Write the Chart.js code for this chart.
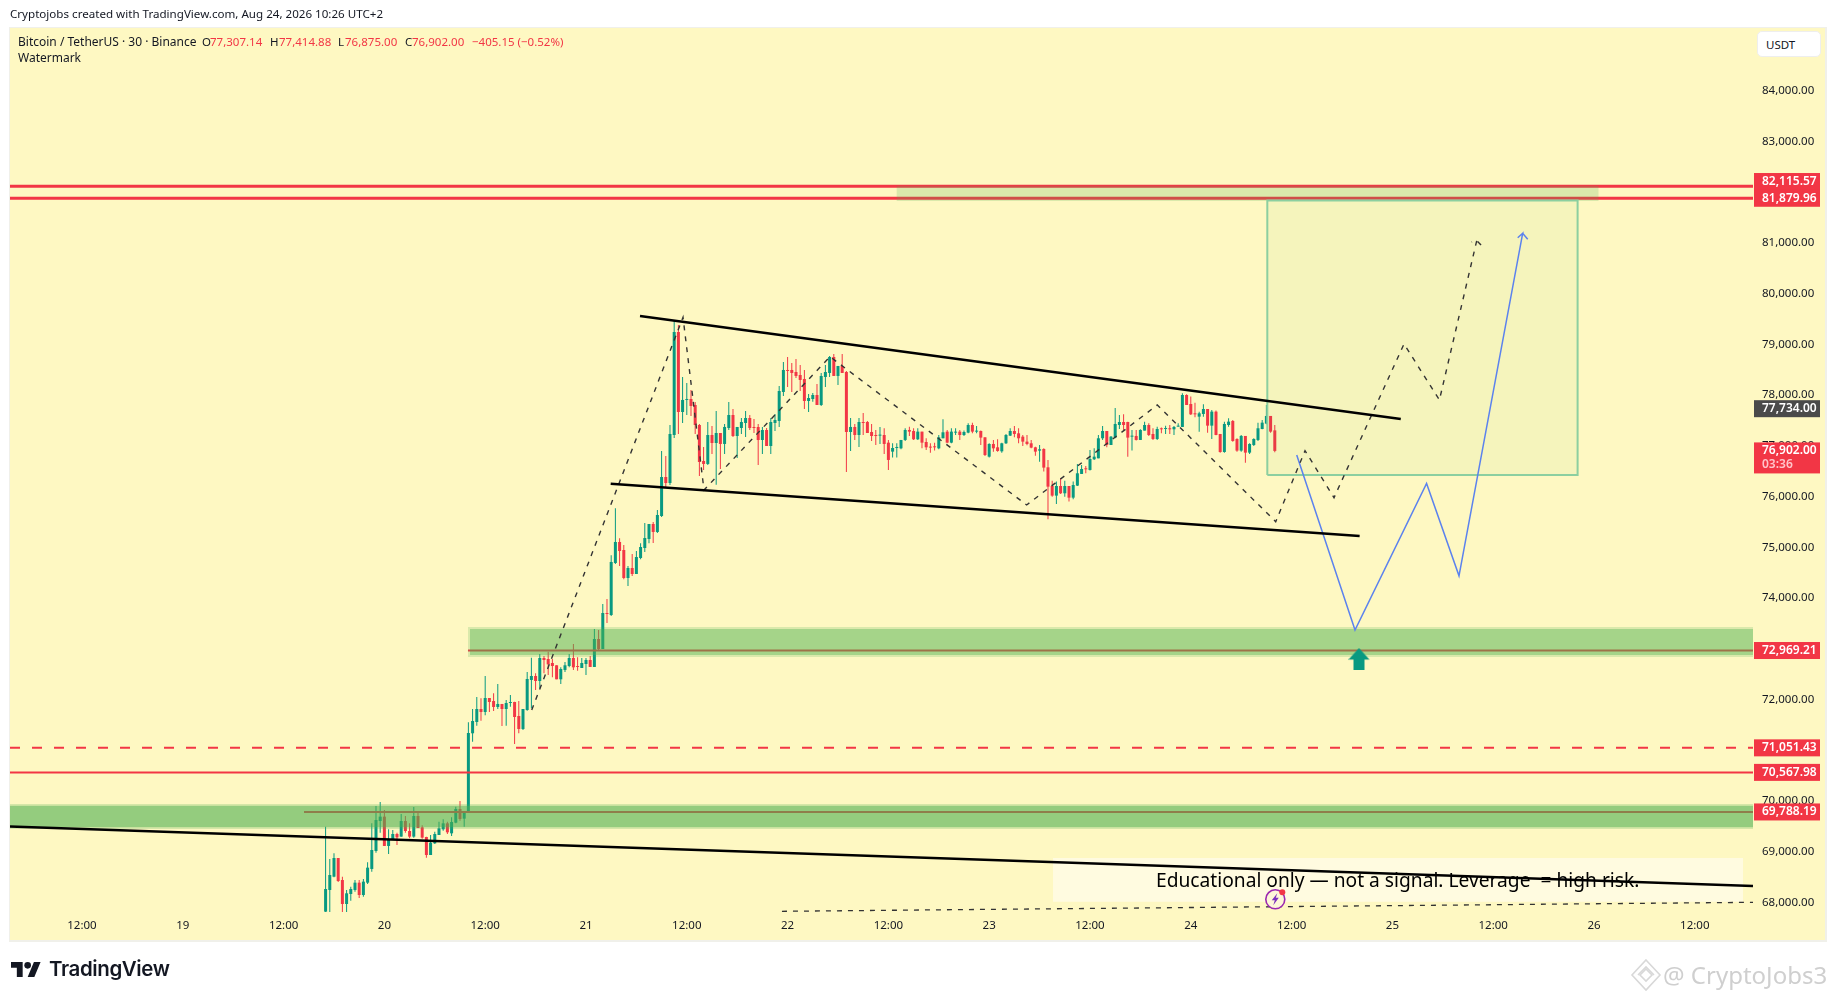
<!DOCTYPE html>
<html><head><meta charset="utf-8">
<style>
html,body{margin:0;padding:0;background:#fff;width:1835px;height:1000px;overflow:hidden}
#wrap{position:relative;width:1835px;height:1000px;font-family:"Noto Sans",sans-serif;color:#131722}
canvas{position:absolute;left:0;top:0}
.t{position:absolute;white-space:pre;font-size:12px;line-height:14px}
.r{color:#f23645}
</style>
<script src="https://cdn.jsdelivr.net/npm/chart.js@4"></script>
</head><body><div id="wrap">
<canvas id="c" width="1835" height="1000"></canvas>
<div class="t" style="left:10px;top:7px;font-size:11.6px">Cryptojobs created with TradingView.com, Aug 24, 2026 10:26 UTC+2</div>
<div class="t" style="left:18px;top:35px">Bitcoin / TetherUS · 30 · Binance</div>
<div class="t" style="left:202px;top:35px;font-size:11.5px">O</div><div class="t r" style="left:210px;top:35px;font-size:11.5px">77,307.14</div>
<div class="t" style="left:270px;top:35px;font-size:11.5px">H</div><div class="t r" style="left:279px;top:35px;font-size:11.5px">77,414.88</div>
<div class="t" style="left:338px;top:35px;font-size:11.5px">L</div><div class="t r" style="left:345px;top:35px;font-size:11.5px">76,875.00</div>
<div class="t" style="left:405px;top:35px;font-size:11.5px">C</div><div class="t r" style="left:412px;top:35px;font-size:11.5px">76,902.00</div>
<div class="t r" style="left:472px;top:35px;font-size:11.5px">−405.15 (−0.52%)</div>
<div class="t" style="left:18px;top:51px">Watermark</div>
<div style="position:absolute;left:1757px;top:31px;width:64px;height:26px;background:#fff;border:1px solid #eee;border-radius:5px;box-sizing:border-box"></div>
<div class="t" style="left:1766px;top:38px;font-size:11.5px">USDT</div>
<div class="t" style="left:1156px;top:867px;font-size:19.2px;line-height:26px;color:#000">Educational only — not a signal. Leverage  = high risk.</div>
<svg style="position:absolute;left:11px;top:962px" width="30" height="15" viewBox="0 4 36 18"><path fill="#131722" d="M14 22H7V11H0V4h14v18zM28 22h-8l7.5-18h8L28 22z"/><circle fill="#131722" cx="20" cy="8" r="4"/></svg>
<div class="t" style="left:49px;top:955px;font-size:20.5px;line-height:28px;font-weight:600;font-family:Inter,sans-serif;letter-spacing:-.4px">TradingView</div>
<svg style="position:absolute;left:1630px;top:958px" width="32" height="34" viewBox="0 0 32 34" fill="none" stroke="#d8d8d8" stroke-width="1.6"><path d="M16 2l14 15-14 15L2 17z"/><path d="M16 11l6 6-6 6-6-6z"/><path d="M8 17l8-8 8 8"/></svg>
<div class="t" style="left:1663px;top:958px;font-size:24px;line-height:34px;color:#cfcfcf">@ CryptoJobs3</div>
</div>
<script>
const opens=[67824,68251,68513,68881,68448,67975,68172,68251,68395,68152,
68395,68665,69019,69610,69696,69118,69249,69354,69302,69610,
69413,69302,69709,69486,69295,68940,69170,69334,69446,69564,
69367,69577,69847,69656,69794,71338,71561,71817,71758,72034,
71975,71857,71916,71817,71935,71955,71679,71423,71797,72389,
72467,72369,72822,72802,72723,72678,72402,72586,72664,72822,
72664,72625,72704,72783,72645,73196,72999,73709,73669,74694,
75108,74950,74398,74595,74477,74792,74989,75167,75462,75305,
75620,76388,76270,77216,79245,77669,77906,77925,77807,77413,
76704,76645,77216,77058,77255,77039,77354,77610,77196,77354,
77452,77551,77374,77374,77117,77314,76999,77452,77492,78063,
78497,78497,78457,78398,78319,77886,77925,78004,77807,78359,
78438,78753,78379,78576,78457,77275,77374,77216,77472,77472,
77275,77216,77203,77216,77065,76888,76960,76953,77118,77315,
77295,77131,77282,77078,76986,76986,76953,77151,77282,77065,
77262,77282,77216,77262,77413,77282,77295,77170,76789,77039,
76973,76894,77052,77203,77295,77249,77183,77085,77052,76973,
76908,76940,76579,76211,76021,76211,76067,76211,75981,76218,
76448,76559,76527,76737,76756,77151,77295,77019,77164,77413,
77472,77472,77183,77197,77118,77302,77413,77236,77137,77341,
77334,77348,77328,77380,77374,78004,77827,77643,77577,77630,
77728,77400,77676,77236,76881,77413,77492,77137,76908,77197,
76868,77019,77118,77334,77440,77591,77307];
const highs=[69499,68862,68973,68881,68513,68251,68316,68448,68448,68467,
68796,69564,69906,69985,69827,69446,69433,69380,69748,69709,
69564,69886,69807,69525,69302,69334,69400,69597,69643,69597,
69682,69893,70004,69807,71554,71817,72054,72027,72467,72034,
72126,72310,71916,71994,72093,71962,71975,71817,72546,72829,
72520,72901,72861,72947,72802,72678,72638,72743,72901,73098,
72835,72822,72822,72861,73393,73374,73886,73985,74845,75771,
75180,75049,74635,74871,74930,75081,75482,75462,75502,75738,
76901,76802,77413,79469,79383,78359,78241,78103,77866,77433,
76980,77472,77393,77689,77255,77433,77866,77728,77374,77551,
77689,77610,77531,77433,77374,77354,77551,77630,78181,78654,
78753,78635,78713,78595,78497,78024,78044,78221,78438,78595,
78773,78812,78576,78812,78477,77551,77433,77551,77649,77492,
77433,77314,77374,77348,77118,77052,77052,77118,77348,77380,
77348,77348,77282,77151,77052,77065,77216,77525,77315,77348,
77348,77315,77302,77446,77459,77394,77302,77170,77052,77118,
77131,77065,77236,77348,77394,77348,77216,77216,77118,76986,
77019,76953,76724,76316,76297,76362,76316,76211,76297,76645,
76625,76605,76921,76953,77216,77394,77295,77197,77748,77610,
77623,77479,77315,77315,77328,77479,77446,77348,77380,77361,
77400,77413,77394,77446,78037,78018,77972,77853,77676,77820,
77728,77709,77696,77236,77479,77545,77512,77151,77216,77197,
77052,77151,77459,77512,77807,77591,77414];
const lows=[67700,67700,68500,68409,67750,67800,68041,68218,68093,68119,
68369,68612,68986,69380,69118,68960,69249,69137,69302,69380,
69269,69282,69472,69262,68888,68940,69157,69334,69420,69354,
69315,69564,69617,69499,69794,71173,71489,71587,71692,71758,
71778,71817,71482,71489,71863,71127,71338,71403,71784,71830,
72191,72224,72520,72487,72441,72402,72310,72546,72638,72586,
72572,72625,72487,72645,72645,72980,72999,73512,73650,74675,
74635,74372,74241,74438,74477,74766,74911,75081,75088,75285,
75600,76185,76231,77157,77236,77452,77610,77590,77236,76408,
76526,76625,76842,76237,76546,76842,77314,77177,76763,77236,
77177,77314,77255,76625,76842,76999,76842,77295,77374,77984,
78162,78063,78339,78083,77728,77669,77873,77807,77787,78162,
78359,78379,78201,78438,76487,76901,77117,76980,77216,77255,
77098,77019,77039,76842,76527,76770,76770,76934,77098,77197,
77118,77118,76953,76921,76868,76908,76934,77151,77052,77052,
77216,77118,77197,77249,77249,77249,77019,76802,76770,76888,
76888,76868,77039,77197,77170,77052,76999,77013,76953,76809,
76691,76494,75555,76001,75857,76054,76001,75903,75949,76211,
76448,76461,76514,76724,76756,77118,76973,77019,77151,77334,
77315,76789,76908,77105,77118,77302,77197,77118,77118,77249,
77236,77236,77216,77380,77374,77807,77610,77564,77282,77577,
77262,77137,77210,76868,76868,77380,77085,76888,76888,76671,
76842,76999,77098,77328,77426,77262,76875];
const closes=[68270,68546,68881,68428,67975,68185,68270,68395,68152,68415,
68691,69039,69630,69696,69118,69249,69354,69288,69610,69413,
69302,69709,69472,69282,68940,69183,69354,69466,69564,69387,
69591,69847,69650,69807,71344,71581,71817,71758,72034,71955,
71857,71916,71817,71935,71955,71659,71423,71817,72408,72467,
72369,72822,72783,72697,72664,72402,72605,72678,72822,72638,
72645,72723,72783,72645,73196,72999,73709,73689,74714,75108,
74930,74398,74595,74477,74812,75009,75186,75462,75305,75640,
76388,76270,77236,79245,77669,77906,77925,77787,77413,76684,
76645,77216,77058,77255,77039,77374,77610,77196,77374,77472,
77551,77354,77354,77117,77314,76999,77472,77512,78083,78497,
78477,78438,78379,78300,77886,77945,78004,77807,78379,78457,
78753,78379,78576,78438,77275,77374,77216,77472,77452,77255,
77196,77196,77216,77039,76724,76960,76980,77118,77315,77282,
77131,77282,77065,76973,76967,76973,77170,77269,77065,77282,
77275,77216,77275,77413,77282,77295,77164,76822,77039,76953,
76901,77052,77216,77295,77236,77151,77085,77039,76967,76888,
76934,76573,76198,76021,76211,76067,76211,75981,76231,76461,
76546,76540,76743,76789,77151,77295,77019,77183,77433,77472,
77413,77164,77197,77118,77315,77413,77216,77137,77334,77328,
77348,77328,77374,77394,78004,77807,77623,77623,77643,77728,
77400,77676,77216,76881,77433,77479,77098,76908,77197,76868,
77039,77137,77348,77459,77591,77282,76902];
// Hours counted from Aug 18 00:00; first candle Aug 19 17:00, 30-minute bars
const firstHour=41, barHours=0.5;
const xMin=3.43, xMax=210.93, yMin=67817, yMax=85235;
const tickHours=[12,24,36,48,60,72,84,96,108,120,132,144,156,168,180,192,204];
const tickTimes=['12:00','19','12:00','20','12:00','21','12:00','22','12:00','23','12:00','24','12:00','25','12:00','26','12:00'];
const tickPrices=[68000,69000,70000,72000,74000,75000,76000,77000,78000,79000,80000,81000,83000,84000];
// price-level lines
const level82115=82115.57, level81880=81879.96, level72969=72969.21, level71051=71051.43, level70568=70567.98, level69788=69788.19;
// trend lines [hour,price]
const upperChannel=[[78.43,79561],[169.0,77531]];
const lowerChannel=[[74.94,76256],[164.1,75226]];
const baseLine=[[3.43,69502],[210.93,68329]];
const dottedBase=[[95.33,67831],[210.93,68008]];
const zigHours=[65.54,83.55,86.05,101.05,124.46,140.01,154.11,157.6,161.05,169.38,173.6,178.04,178.55,178.04,177.44];
const zigPrices=[71797,79535,76132,78759,75837,77807,75508,76907,75980,79009,77906,81044,80960,81044,81019];
const blueHours=[156.61,163.55,172.07,175.93,183.51,182.92,183.51,184.11];
const bluePrices=[76822,73374,76262,74442,81190,81103,81190,81072];
// price tags on the axis: value, centre value of the tag
const tagValues=[82115.57,81879.96,72969.21,71051.43,70567.98,69788.19];
const tagCentres=[82210,81880,72969.21,71051.43,70567.98,69788.19];
const GREEN='#089981', RED='#f23645', FONT='"Noto Sans",sans-serif';
const bar=i=>firstHour+i*barHours;
const wick=opens.map((o,i)=>({x:bar(i),y:[lows[i],highs[i]]}));
const body=opens.map((o,i)=>({x:bar(i),y:[Math.min(o,closes[i]),Math.max(o,closes[i])]}));
const col=c=>closes[c.dataIndex]>=opens[c.dataIndex]?GREEN:RED;
const pts=a=>a.map(p=>({x:p[0],y:p[1]}));
const line=(data,color,width,order,dash)=>({type:'line',data,borderColor:color,borderWidth:width,borderDash:dash||[],pointRadius:0,tension:0,fill:false,order});
const hline=(v,from,color,width,order,dash)=>line([{x:from,y:v},{x:xMax,y:v}],color,width,order,dash);
const zone=(x0,x1,hi,lo,color,order)=>({type:'line',data:[{x:x0,y:hi},{x:x1,y:hi}],borderWidth:0,borderColor:'transparent',backgroundColor:color,pointRadius:0,fill:{target:{value:lo}},order});
const rectPath=(x0,x1,hi,lo)=>[{x:x0,y:lo},{x:x0,y:hi},{x:x1,y:hi},{x:x1,y:lo},{x:x0,y:lo}];
const arrowCanvas=(()=>{const c=document.createElement('canvas');c.width=22;c.height=22;const g=c.getContext('2d');g.fillStyle=GREEN;g.beginPath();
 g.moveTo(10.5,0);g.lineTo(21,11.5);g.lineTo(16,11.5);g.lineTo(16,22);g.lineTo(5,22);g.lineTo(5,11.5);g.lineTo(0,11.5);g.closePath();g.fill();return c;})();
const plugin={id:'tv',
 beforeDraw(ch){const g=ch.ctx;g.save();g.fillStyle='#fff';g.fillRect(0,0,1835,1000);g.fillStyle='#f0f0ea';g.fillRect(9,27,1818,915);g.fillStyle='#fef8c2';g.fillRect(10,28,1815,912);g.restore();},
 afterDraw(ch){const g=ch.ctx,y=ch.scales.y,x=ch.scales.x;g.save();
  // lightning marker
  const ix=x.getPixelForValue(154.06),iy=y.getPixelForValue(68067);
  g.beginPath();g.arc(ix,iy,9.5,0,7);g.fillStyle='#fdf6d8';g.fill();g.lineWidth=1.6;g.strokeStyle='#9c27b0';g.stroke();
  g.beginPath();g.moveTo(ix+2,iy-6);g.lineTo(ix-3.5,iy+1);g.lineTo(ix-.5,iy+1);g.lineTo(ix-2,iy+6);g.lineTo(ix+3.5,iy-1.5);g.lineTo(ix+.5,iy-1.5);g.closePath();g.fillStyle='#7b2fbf';g.fill();
  g.beginPath();g.arc(ix+7,iy-7,3,0,7);g.fillStyle=RED;g.fill();
  // axis tags
  const R=1754,W=66,H=17;g.textBaseline='middle';g.textAlign='left';
  const tag=(cy,txt,bg)=>{g.fillStyle=bg;g.fillRect(R,cy-H/2,W,H);g.fillStyle='#fff';g.font='600 12px '+FONT;g.fillText(txt,1762,cy);};
  tagValues.forEach((v,i)=>tag(y.getPixelForValue(tagCentres[i]),v.toLocaleString('en-US',{minimumFractionDigits:2,maximumFractionDigits:2}),RED));
  tag(y.getPixelForValue(77734),'77,734.00','#4a4a4a');
  const cy=y.getPixelForValue(76902);
  g.fillStyle=RED;g.fillRect(R,cy-8.5,W,31);g.fillStyle='#fff';g.font='600 12px '+FONT;g.fillText('76,902.00',1762,cy);
  g.fillStyle='#ffc4ca';g.fillText('03:36',1762,cy+14);
  g.restore();}
};
new Chart(document.getElementById('c'),{
 type:'bar',
 data:{datasets:[
  {type:'bar',data:body,backgroundColor:col,barThickness:3,grouped:false,order:90,minBarLength:1,inflateAmount:0},
  {type:'bar',data:wick,backgroundColor:col,barThickness:1,grouped:false,order:91,inflateAmount:0},
  hline(level82115,xMin,RED,3,80),hline(level81880,xMin,RED,3,80),
  hline(level72969,57.95,RED,2,80),hline(level71051,xMin,RED,2,80,[10,12]),hline(level70568,xMin,RED,2,80),hline(level69788,38.43,RED,2,80),
  zone(57.95,xMax,73433,72842,'rgba(76,175,80,.2)',70),zone(58.19,xMax,73393,72881,'rgba(76,175,80,.37)',69),
  zone(xMin,xMax,69939,69458,'rgba(76,175,80,.3)',70),zone(xMin,xMax,69906,69492,'rgba(76,175,80,.42)',69),
  zone(108.96,192.56,82126,81827,'rgba(76,175,80,.2)',68),
  zone(153.11,190.05,81837,76428,'rgba(76,175,80,.05)',67),
  line(rectPath(153.11,190.05,81837,76428),'#8ccfa0',2,66),
  zone(127.6,209.74,68881,68020,'#fffbe0',65),
  line(pts(upperChannel),'#000',2.5,40),line(pts(lowerChannel),'#000',2.5,40),line(pts(baseLine),'#000',2.5,40),
  line(pts(dottedBase),'#333',1.3,41,[5,6]),
  line(zigHours.map((h,i)=>({x:h,y:zigPrices[i]})),'#333',1.4,42,[5,6]),
  line(blueHours.map((h,i)=>({x:h,y:bluePrices[i]})),'#5b82ee',1.5,43),
  {type:'line',data:[{x:164.08,y:72802}],showLine:false,pointStyle:arrowCanvas,pointRadius:11,order:30}
 ]},
 options:{responsive:false,animation:false,devicePixelRatio:1,
  layout:{autoPadding:false,padding:{left:10,top:28,right:10,bottom:60}},
  plugins:{legend:{display:false},tooltip:{enabled:false}},
  scales:{
   x:{type:'linear',offset:false,min:xMin,max:xMax,position:'bottom',grid:{display:false,drawTicks:false},border:{display:false},
    afterBuildTicks:s=>{s.ticks=tickHours.map(v=>({value:v}));},
    afterFit:s=>{s.height=28;},
    ticks:{autoSkip:false,maxRotation:0,padding:7,color:'#131722',font:{family:FONT,size:11.5},callback:v=>tickTimes[tickHours.indexOf(v)]}},
   y:{type:'linear',position:'right',min:yMin,max:yMax,grid:{display:false,drawTicks:false},border:{display:false},
    afterBuildTicks:s=>{s.ticks=tickPrices.map(v=>({value:v}));},
    afterFit:s=>{s.width=72;},
    ticks:{autoSkip:false,padding:9,crossAlign:'near',color:'#131722',font:{family:FONT,size:11.5},callback:v=>v.toLocaleString('en-US',{minimumFractionDigits:2,maximumFractionDigits:2})}}
  }},
 plugins:[plugin]
});
</script>
</body></html>
